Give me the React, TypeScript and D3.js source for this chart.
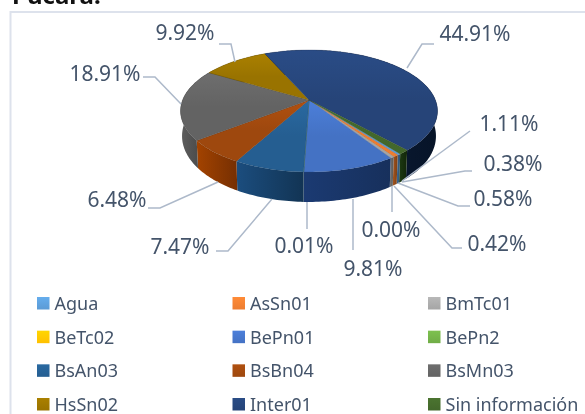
import React from "react";
import * as d3 from "d3";

const categories = ["Agua","AsSn01","BmTc01","BeTc02","BePn01","BePn2","BsAn03","BsBn04","BsMn03","HsSn02","Inter01","Sin información"];
const values = [0.38,0.58,0.42,0.0,9.81,0.01,7.47,6.48,18.91,9.92,44.91,1.11];
const colors = ["#5b9bd5","#ed7d31","#a5a5a5","#ffc000","#4472c4","#70ad47","#255e91","#9e480e","#636363","#997300","#264478","#43682b"];
const sideFrom = ["#3a6a94","#a5561f","#777777","#b08600","#1b3a72","#4c7830","#1b4d7e","#a34300","#5e5e5e","#6e5300","#0e2245","#1d3a12"];
const sideTo = ["#2c5070","#7a3d12","#555555","#806000","#17305c","#36561f","#123454","#762f02","#3f3f3f","#4d3a00","#071428","#122609"];
const labelLayout: Record<string,{pts:[number,number][],tx:number,ty:number}> = {
  "Inter01":{pts:[[407,68],[422,44],[434,44]],tx:475,ty:33},
  "Sin información":{pts:[[402,181],[470,131]],tx:509,ty:123},
  "Agua":{pts:[[402,182],[465,171],[472,171]],tx:513,ty:163},
  "AsSn01":{pts:[[398,183],[458,206],[470,206]],tx:503,ty:198},
  "BmTc01":{pts:[[394,186],[452,248],[462,248]],tx:497,ty:243},
  "BeTc02":{pts:[[392,186],[392,212]],tx:391,ty:229},
  "BePn01":{pts:[[353,199],[353,250]],tx:373,ty:268},
  "BePn2":{pts:[[307,202],[307,229]],tx:304,ty:245},
  "BsAn03":{pts:[[272,199],[228,251],[216,251]],tx:180,ty:246},
  "BsBn04":{pts:[[218,182],[160,208],[148,208]],tx:117,ty:199},
  "BsMn03":{pts:[[181,104],[155,77],[143,77]],tx:105,ty:73},
  "HsSn02":{pts:[[235,62],[231,44],[219,44]],tx:185,ty:32},
};

const FONT = "'Noto Sans', sans-serif";
const TXT = "#44546a";
const cx = 309, cy = 100, k = 126.4, persp = -0.18, a = 41;
const t0 = (141.7 * Math.PI) / 180;

const proj = (t: number): [number, number] => {
  const u = Math.sin(t), v = -Math.cos(t), w = 1 + persp * v;
  return [cx + (k * u) / w, (a * v + cy) / w];
};
const projB = (t: number): [number, number] => {
  const [x, y] = proj(t);
  const v = -Math.cos(t);
  return [cx + (x - cx) * 0.988, y + 24 + 6 * Math.max(0, v)];
};
const arcs = d3.pie<number>().sort(null).startAngle(t0).endAngle(t0 + 2 * Math.PI)(values);
const sample = (s: number, e: number, f: (t: number) => [number, number]) => {
  const n = Math.max(2, Math.ceil((e - s) / 0.02));
  return d3.range(n + 1).map((i) => f(s + ((e - s) * i) / n));
};
const line = d3.line();
const darker = (c: string, m: number) => d3.color(c)!.darker(m).formatHex();
const lighter = (c: string, m: number) => d3.color(c)!.brighter(m).formatHex();

const legendX = d3.scaleOrdinal<number, number>().domain([0, 1, 2]).range([37, 232.5, 428]);
const legendY = d3.scalePoint<number>().domain([0, 1, 2, 3]).range([303, 404]);

export default function App() {
  const order = arcs.map((_, i) => i);
  return (
    <svg width={585} height={414} style={{ position: "absolute", left: 0, top: 0, background: "#fff", filter: "blur(0.35px)" }}>
      <defs>
        {colors.map((c, i) => (
          <React.Fragment key={i}>
            <linearGradient id={`top${i}`} x1="0" y1="0" x2="0" y2="1">
              <stop offset="0" stopColor={lighter(c, 0.3)} />
              <stop offset="0.5" stopColor={c} />
              <stop offset="1" stopColor={c} />
            </linearGradient>
            <linearGradient id={`side${i}`} x1="0" y1="0" x2="1" y2="0">
              <stop offset="0" stopColor={sideFrom[i]} />
              <stop offset="1" stopColor={sideTo[i]} />
            </linearGradient>
            <linearGradient id={`leg${i}`} x1="0" y1="0" x2="0" y2="1">
              <stop offset="0" stopColor={lighter(c, 0.3)} />
              <stop offset="1" stopColor={c} />
            </linearGradient>
          </React.Fragment>
        ))}
      </defs>
      <text x={12} y={4} fontFamily={FONT} fontWeight="700" fontSize={24} fill="#111">Pucará:</text>
      <path d="M585 12H10.5V414" fill="none" stroke="#dde2ec" strokeWidth={2} />
      {order.map((i) => {
        const d = arcs[i];
        if (d.value === 0) return null;
        const topPts = sample(d.startAngle, d.endAngle, proj);
        const botPts = sample(d.startAngle, d.endAngle, projB).reverse();
        return <path key={i} d={line([...topPts, ...botPts])! + "Z"} fill={`url(#side${i})`} />;
      })}
      {order.map((i) => {
        const d = arcs[i];
        if (d.value === 0) return null;
        const pts = sample(d.startAngle, d.endAngle, proj);
        return (
          <path key={i} d={line([[cx, cy], ...pts])! + "Z"} fill={`url(#top${i})`}
            stroke={darker(colors[i], 1)} strokeWidth={0.4} strokeOpacity={0.7} />
        );
      })}
      {categories.map((name, i) => {
        const l = labelLayout[name];
        return (
          <g key={name}>
            <path d={line(l.pts)!} fill="none" stroke="#adb9ca" strokeWidth={1.5} />
            <text x={l.tx} y={l.ty} textAnchor="middle" dominantBaseline="central"
              fontFamily={FONT} fontSize={21} fill={TXT}>{d3.format(".2f")(values[i])}%</text>
          </g>
        );
      })}
      {categories.map((name, i) => {
        const x = legendX(i % 3)!, y = legendY(Math.floor(i / 3))!;
        return (
          <g key={name}>
            <rect x={x} y={y - 6} width={12.5} height={12.5} fill={`url(#leg${i})`} />
            <text x={x + 17.5} y={y} dominantBaseline="central" fontFamily={FONT} fontSize={18} fill={TXT}>{name}</text>
          </g>
        );
      })}
    </svg>
  );
}
